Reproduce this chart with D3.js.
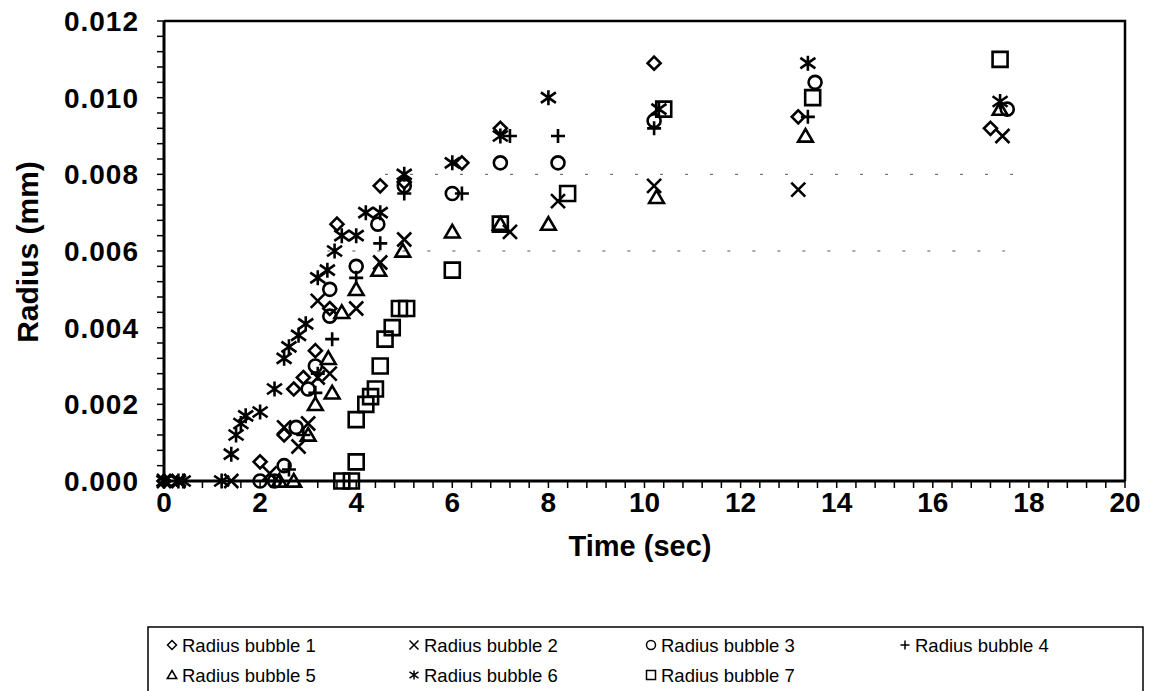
<!DOCTYPE html>
<html>
<head>
<meta charset="utf-8">
<script src="https://cdn.jsdelivr.net/npm/d3@7"></script>
<style>
  body { margin: 0; background: #fff; }
  svg { font-family: "Liberation Sans", Arial, sans-serif; }
</style>
</head>
<body>
<svg width="1153" height="691"></svg>
<script>
// values: [time (sec), radius (mm)]
var bubble1 = [[0,0],[2.0,0.0005],[2.5,0.0012],[2.7,0.0024],[2.9,0.0027],[3.15,0.0034],[3.45,0.0045],[3.6,0.0067],[4.5,0.0077],[5.0,0.0078],[6.2,0.0083],[7.0,0.0092],[10.2,0.0109],[13.2,0.0095],[17.2,0.0092]];
var bubble2 = [[0,0],[0.3,0],[1.4,0],[2.2,0.0002],[2.5,0.0014],[2.8,0.0009],[3.0,0.0015],[3.2,0.0027],[3.2,0.0047],[3.45,0.0028],[4.0,0.0045],[4.5,0.0057],[5.0,0.0063],[7.2,0.0065],[8.2,0.0073],[10.2,0.0077],[13.2,0.0076],[17.45,0.0090]];
var bubble3 = [[2.0,0],[2.3,0],[2.5,0.0004],[2.75,0.0014],[3.0,0.0024],[3.15,0.0030],[3.45,0.0043],[3.45,0.0050],[4.0,0.0056],[4.45,0.0067],[5.0,0.0077],[6.0,0.0075],[7.0,0.0083],[8.2,0.0083],[10.2,0.0094],[13.55,0.0104],[17.55,0.0097]];
var bubble4 = [[2.3,0],[2.6,0.0003],[2.9,0.0012],[3.15,0.0023],[3.2,0.0028],[3.5,0.0037],[4.0,0.0053],[4.5,0.0062],[5.0,0.0075],[6.2,0.0075],[7.2,0.0090],[8.2,0.0090],[10.2,0.0092],[13.4,0.0095]];
var bubble5 = [[2.4,0],[2.7,0],[3.0,0.0012],[3.15,0.0020],[3.5,0.0023],[3.42,0.0032],[3.7,0.0044],[4.0,0.0050],[4.47,0.0055],[4.97,0.0060],[6.0,0.0065],[7.0,0.0067],[8.0,0.0067],[10.25,0.0074],[13.35,0.0090],[17.4,0.0097]];
var bubble6 = [[0,0],[0.3,0],[0.4,0],[1.2,0],[1.4,0.0007],[1.5,0.0012],[1.6,0.0015],[1.7,0.0017],[2.0,0.0018],[2.3,0.0024],[2.5,0.0032],[2.6,0.0035],[2.8,0.0038],[2.95,0.0041],[3.2,0.0053],[3.4,0.0055],[3.55,0.0060],[3.7,0.0064],[4.0,0.0064],[4.2,0.0070],[4.5,0.0070],[5.0,0.0080],[6.0,0.0083],[7.0,0.0090],[8.0,0.0100],[10.3,0.0097],[13.4,0.0109],[17.4,0.0099]];
var bubble7 = [[3.7,0],[3.9,0],[4.0,0.0005],[4.0,0.0016],[4.2,0.0020],[4.3,0.0022],[4.4,0.0024],[4.5,0.0030],[4.6,0.0037],[4.75,0.0040],[4.9,0.0045],[5.05,0.0045],[6.0,0.0055],[7.0,0.0067],[8.4,0.0075],[10.4,0.0097],[13.5,0.0100],[17.4,0.0110]];

var seriesNames = ["Radius bubble 1","Radius bubble 2","Radius bubble 3","Radius bubble 4","Radius bubble 5","Radius bubble 6","Radius bubble 7"];
var seriesShapes = ["diamond","times","circle","plus","triangle","asterisk","square"];
var seriesData = [bubble1,bubble2,bubble3,bubble4,bubble5,bubble6,bubble7];

var xTicks = [0,2,4,6,8,10,12,14,16,18,20];
var yTicks = [0,0.002,0.004,0.006,0.008,0.010,0.012];

var svg = d3.select("svg");
var plotLeft = 164, plotRight = 1125, plotTop = 21, plotBottom = 481;

var x = d3.scaleLinear().domain([0,20]).range([plotLeft,plotRight]);
var y = d3.scaleLinear().domain([0,0.012]).range([plotBottom,plotTop]);

// marker outline paths, centred on 0,0
function shape(type, s) {
  var h = s/2;
  if (type == "diamond") return "M0,"+(-h)+"L"+h+",0L0,"+h+"L"+(-h)+",0Z";
  if (type == "times") return "M"+(-h)+","+(-h)+"L"+h+","+h+"M"+h+","+(-h)+"L"+(-h)+","+h;
  if (type == "circle") return "M"+h+",0A"+h+","+h+" 0 1,1 "+(-h)+",0A"+h+","+h+" 0 1,1 "+h+",0Z";
  if (type == "plus") return "M"+(-h)+",0L"+h+",0M0,"+(-h)+"L0,"+h;
  if (type == "triangle") return "M0,"+(-h)+"L"+(h*1.05)+","+(h*0.8)+"L"+(-h*1.05)+","+(h*0.8)+"Z";
  if (type == "asterisk") return "M"+(-h)+","+(-h*0.7)+"L"+h+","+(h*0.7)+"M"+h+","+(-h*0.7)+"L"+(-h)+","+(h*0.7)+"M0,"+(-h)+"L0,"+h;
  if (type == "square") return "M"+(-h)+","+(-h)+"L"+h+","+(-h)+"L"+h+","+h+"L"+(-h)+","+h+"Z";
}
var markerSize = {diamond:13, times:14, circle:13, plus:14, triangle:14, asterisk:15, square:15};

// faint dotted gridlines left in the scan
svg.append("g").selectAll("line")
  .data([0.006,0.008])
  .enter().append("line")
    .attr("x1", function(d){ return x(d == 0.008 ? 4.6 : 3.4); })
    .attr("x2", function(d){ return x(d == 0.008 ? 18.0 : 17.5); })
    .attr("y1", function(d){ return y(d); })
    .attr("y2", function(d){ return y(d); })
    .style("stroke", "#555")
    .style("stroke-width", 1)
    .style("stroke-dasharray", "3,22");

// frame top / right
svg.append("path")
  .attr("d", "M"+plotLeft+","+plotTop+"H"+plotRight+"V"+plotBottom)
  .style("fill", "none").style("stroke", "#000").style("stroke-width", 2.5);

// x axis
var xAxis = svg.append("g").attr("transform", "translate(0,"+plotBottom+")");
xAxis.append("line").attr("x1", plotLeft).attr("x2", plotRight)
  .style("stroke", "#000").style("stroke-width", 3);
xAxis.selectAll(".mt").data(d3.range(0, 20.01, 0.4))
  .enter().append("line")
    .attr("x1", function(d){ return x(d); }).attr("x2", function(d){ return x(d); })
    .attr("y1", 0).attr("y2", 7)
    .style("stroke", "#000").style("stroke-width", 1.5);
xAxis.selectAll("text").data(xTicks)
  .enter().append("text")
    .attr("x", function(d){ return x(d); })
    .attr("y", 31)
    .attr("text-anchor", "middle")
    .style("font-size", "28px").style("font-weight", "bold")
    .text(function(d){ return d; });

// y axis
var yAxis = svg.append("g").attr("transform", "translate("+plotLeft+",0)");
yAxis.append("line").attr("y1", plotTop).attr("y2", plotBottom)
  .style("stroke", "#000").style("stroke-width", 3);
yAxis.selectAll(".mt").data(d3.range(0, 0.01201, 0.0004))
  .enter().append("line")
    .attr("y1", function(d){ return y(d); }).attr("y2", function(d){ return y(d); })
    .attr("x1", -7).attr("x2", 0)
    .style("stroke", "#000").style("stroke-width", 1.5);
yAxis.selectAll("text").data(yTicks)
  .enter().append("text")
    .attr("x", -25)
    .attr("y", function(d){ return y(d); })
    .attr("dy", "0.36em")
    .attr("text-anchor", "end")
    .style("font-size", "28px").style("font-weight", "bold")
    .style("letter-spacing", "1px")
    .text(function(d){ return d3.format(".3f")(d); });

// axis titles
svg.append("text")
  .attr("x", 640).attr("y", 556)
  .attr("text-anchor", "middle")
  .style("font-size", "29px").style("font-weight", "bold")
  .text("Time (sec)");
svg.append("text")
  .attr("transform", "translate(38,252) rotate(-90)")
  .attr("text-anchor", "middle")
  .style("font-size", "30px").style("font-weight", "bold")
  .text("Radius (mm)");

// points
seriesData.forEach(function(data, i) {
  var type = seriesShapes[i];
  svg.append("g").attr("class", "series")
    .selectAll("path")
    .data(data)
    .enter().append("path")
      .attr("transform", function(d){ return "translate("+x(d[0])+","+y(d[1])+")"; })
      .attr("d", shape(type, markerSize[type]))
      .style("fill", "none")
      .style("stroke", "#000")
      .style("stroke-width", 2.6);
});

// legend
var legend = svg.append("g");
legend.append("path")
  .attr("d", "M148,691V627H1143V691")
  .style("fill", "none").style("stroke", "#000").style("stroke-width", 1.5);
var legendCol = [172, 414, 651, 905];
var legendRow = [645, 675];
var item = legend.selectAll(".item").data(seriesNames)
  .enter().append("g")
    .attr("transform", function(d, i){ return "translate("+legendCol[i % 4]+","+legendRow[Math.floor(i / 4)]+")"; });
item.append("path")
  .attr("d", function(d, i){ return shape(seriesShapes[i], 9); })
  .style("fill", "none").style("stroke", "#000").style("stroke-width", 1.5);
item.append("text")
  .attr("x", 10).attr("dy", "0.36em")
  .style("font-size", "18.5px")
  .text(function(d){ return d; });
</script>
</body>
</html>
